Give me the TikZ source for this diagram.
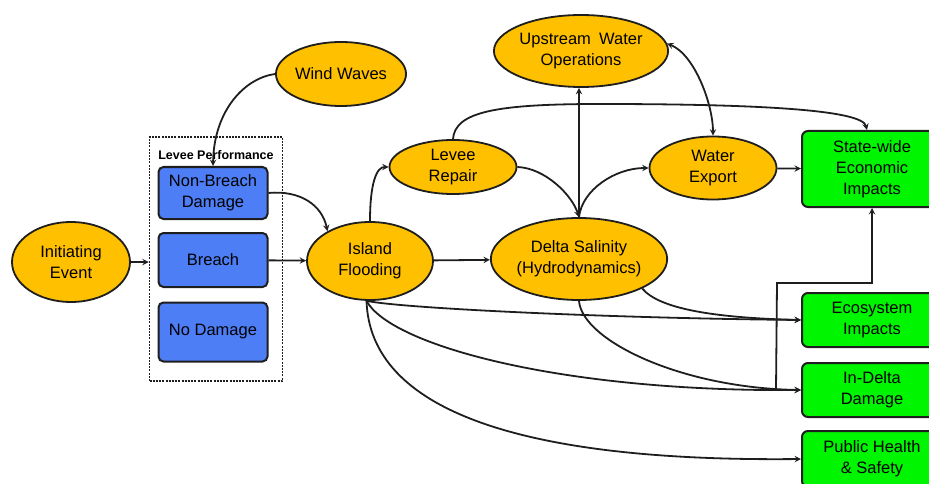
\documentclass[tikz,border=0pt]{standalone}
\usepackage{fontspec}
\setmainfont{Liberation Sans}
\usetikzlibrary{shapes.geometric}
\definecolor{gold}{RGB}{255,192,0}
\definecolor{leveeblue}{RGB}{78,126,245}
\definecolor{impactgreen}{RGB}{0,245,0}
\definecolor{rim}{RGB}{30,30,30}
\tikzset{
  factor/.style={ellipse, draw=rim, line width=1.8pt, fill=gold, inner sep=0pt,
    align=center, font=\fontsize{16.5}{21}\selectfont},
  leveebox/.style={rectangle, rounded corners=5pt, draw=rim, line width=2pt,
    fill=leveeblue, minimum width=109pt, align=center, font=\fontsize{16.5}{21}\selectfont},
  impact/.style={rectangle, rounded corners=6pt, draw=rim, line width=2pt,
    fill=impactgreen, minimum width=140pt, align=center, font=\fontsize{16.5}{21}\selectfont},
  link/.style={->, line width=1.8pt, draw=rim},
}
\begin{document}
\begin{tikzpicture}[>=stealth, x=1pt, y=-1pt]
  \useasboundingbox (0,0) rectangle (929,484);
  % levee performance group
  \node[draw=rim, dash pattern=on 2pt off 1.2pt, line width=1.5pt,
        minimum width=133pt, minimum height=244pt] (perf) at (216,259) {};
  \node[font=\bfseries\fontsize{12.5}{14}\selectfont] (perflabel) at (216,155) {Levee Performance};
  \node[leveebox, minimum height=52pt] (nonbreach) at (213,193) {Non-Breach\\Damage};
  \node[leveebox, minimum height=54pt] (breach) at (213,260) {Breach};
  \node[leveebox, minimum height=59pt] (nodamage) at (213,332) {No Damage};
  % drivers and processes
  \node[factor, minimum width=118pt, minimum height=80pt] (init) at (71,262) {Initiating\\Event};
  \node[factor, minimum width=126pt, minimum height=64pt] (wind) at (341,74) {Wind Waves};
  \node[factor, minimum width=126pt, minimum height=78pt] (island) at (370,261) {Island\\Flooding};
  \node[factor, minimum width=127pt, minimum height=54pt] (repair) at (453,167) {Levee\\Repair};
  \node[factor, minimum width=170pt, minimum height=72pt] (upstream) at (581,51) {Upstream\enspace Water\\Operations};
  \node[factor, minimum width=167pt, minimum height=82pt] (salinity) at (579,259) {Delta Salinity\\(Hydrodynamics)};
  \node[factor, minimum width=127pt, minimum height=63pt] (export) at (713,168) {Water\\Export};
  % impacts (cut by the right edge)
  \node[impact, minimum height=76pt] (statewide) at (872,169) {State-wide\\Economic\\Impacts};
  \node[impact, minimum height=54pt] (ecosystem) at (872,320) {Ecosystem\\Impacts};
  \node[impact, minimum height=54pt] (indelta) at (872,390) {In-Delta\\Damage};
  \node[impact, minimum height=56pt] (health) at (872,459) {Public Health\\\& Safety};
  % links into and out of the levee group
  \draw[link] (init) -- (perf.west |- init);
  \draw[link] (wind.west) .. controls (245,78) and (214,110) .. (nonbreach.north);
  \draw[link] (nonbreach.east) .. controls (300,190) and (322,205) .. (island.145);
  \draw[link] (breach) -- (island);
  % island flooding and what follows
  \draw[link] (island.north) .. controls +(0,-38) and +(-12,0) .. (repair.west);
  \draw[link] (island) -- (salinity);
  \draw[link] (repair.east) .. controls (545,168) and (572,195) .. (salinity.north);
  \draw[link] (salinity.north) -- (upstream.south -| salinity.north);
  \draw[link] (salinity.north) .. controls (582,190) and (615,168) .. (export.west);
  \draw[link, <->] (upstream.5) .. controls (695,55) and (713,105) .. (export.north);
  \draw[link] (export) -- (statewide);
  \draw[link] (repair.north) .. controls (455,112) and (495,104) .. (600,104)
       .. controls (760,104) and (862,110) .. ([xshift=-5pt]statewide.north);
  % impacts from flooding and salinity
  \draw[link] (island.265) .. controls (400,308) and (600,318) .. (ecosystem.west);
  \draw[link] (island.265) .. controls (390,345) and (560,392) .. (indelta.west);
  \draw[link] (island.265) .. controls (370,410) and (520,462) .. (health.west);
  \draw[link] (salinity.335) .. controls (660,310) and (720,318) .. (ecosystem.west);
  \draw[link] (salinity.south) .. controls (582,340) and (680,388) .. (indelta.west);
  \coordinate (bend) at (777,283);
  \draw[link] ([xshift=-25pt]indelta.west) -- (bend) -| (statewide.south);
\end{tikzpicture}
\end{document}
